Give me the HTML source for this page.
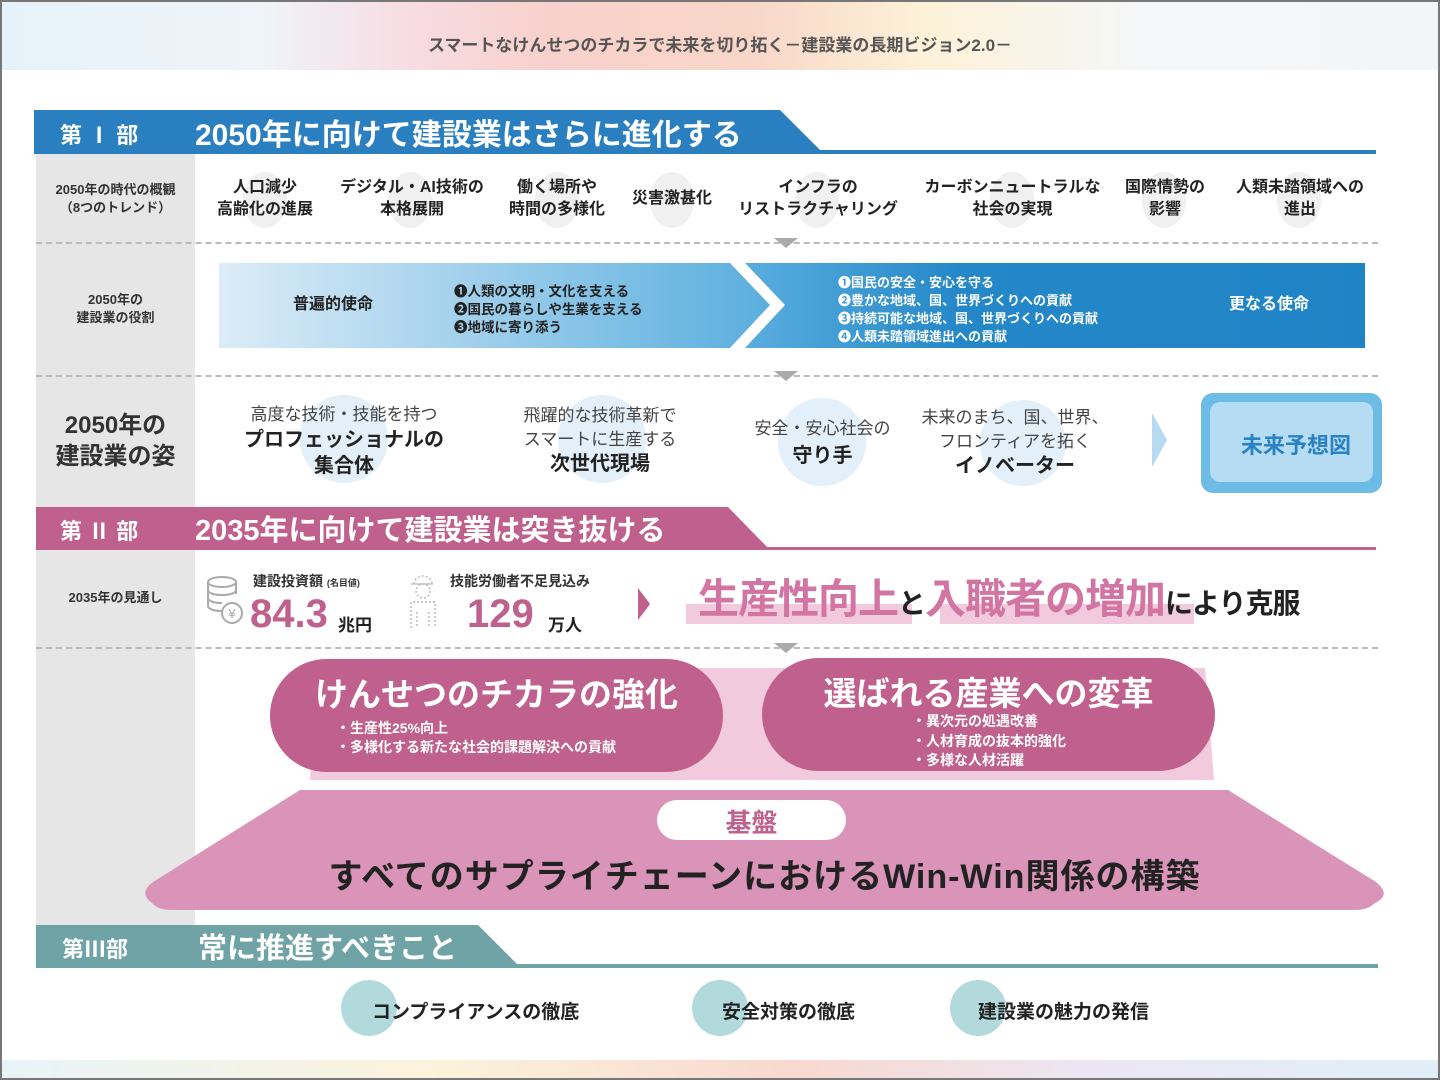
<!DOCTYPE html>
<html><head><meta charset="utf-8">
<style>
*{margin:0;padding:0;box-sizing:border-box}
body{width:1440px;height:1080px;position:relative;overflow:hidden;background:#fff;font-family:"Liberation Sans","Noto Sans CJK JP",sans-serif;color:#222}
.a{position:absolute}
.c{text-align:center;white-space:nowrap}
.t{font-weight:bold;font-size:16px;line-height:22px}
.dash{position:absolute;left:36px;width:1342px;border-top:2px dashed #bbb;height:0}
.tri{position:absolute;width:0;height:0;border-left:12px solid transparent;border-right:12px solid transparent;border-top:10px solid #aaa}
.circ{position:absolute;border-radius:50%}
</style></head><body>
<div class="a" style="left:0;top:0;width:1440px;height:1080px;border:2px solid #777;z-index:50;pointer-events:none"></div>
<div class="a" style="left:0;top:0;width:1440px;height:70px;background:linear-gradient(90deg,#e6f2f9 0%,#eef4f9 18%,#f7dde4 28%,#f8d1cc 38%,#f8d6c8 52%,#fdf1d8 64%,#f4f7f9 80%,#f3f6f8 100%)"></div>
<div class="a c" style="left:0;width:1440px;top:31px;font-size:17px;color:#555;font-weight:bold">スマートなけんせつのチカラで未来を切り拓く－建設業の長期ビジョン2.0－</div>
<div class="a" style="left:0;top:1060px;width:1440px;height:20px;background:linear-gradient(90deg,#e8f3f8 0%,#fbf3dc 30%,#f8d8cf 55%,#ece6f2 75%,#e0eff7 100%)"></div>

<div class="a" style="left:36px;top:152px;width:159px;height:773px;background:#e6e6e6"></div>

<svg class="a" style="left:0;top:0" width="1440" height="1080">
<polygon points="34,110 780,110 822,152 34,152" fill="#2a7fc0"/>
<rect x="34" y="150" width="1342" height="4" fill="#2a7fc0"/>
<polygon points="36,507 728,507 770,550 36,550" fill="#c0608c"/>
<rect x="36" y="547" width="1340" height="3" fill="#c0608c"/>
<polygon points="36,925 478,925 520,967 36,967" fill="#6fa3a6"/>
<rect x="36" y="964" width="1342" height="4" fill="#6fa3a6"/>
<defs><linearGradient id="g1" x1="0" x2="1"><stop offset="0" stop-color="#dcecf7"/><stop offset="1" stop-color="#5aaede"/></linearGradient>
<linearGradient id="g2" x1="0" x2="1"><stop offset="0" stop-color="#5aaede"/><stop offset="0.35" stop-color="#2487c8"/><stop offset="1" stop-color="#1f84c5"/></linearGradient></defs>
<polygon points="219,263 730,263 770,305 730,348 219,348" fill="url(#g1)"/>
<polygon points="745,263 1365,263 1365,348 745,348 785,305" fill="url(#g2)"/>
<polygon points="1152,413 1167,440 1152,467" fill="#b6daf0"/>
<polygon points="638,588 650,604 638,620" fill="#c0608c"/>
<polygon points="318,668 1205,668 1214,780 310,780" fill="#f2cade"/>
<path d="M300,790 L1228,790 L1376,882 Q1392,895 1375,903 Q1368,910 1355,910 L172,910 Q158,910 152,903 Q138,893 153,882 Z" fill="#d994b8"/>
</svg>
<div class="a" style="left:60px;top:118px;font-size:22px;color:#fff;font-weight:bold">第 Ⅰ 部</div>
<div class="a" style="left:195px;top:110px;font-size:30px;color:#fff;font-weight:bold">2050年に向けて建設業はさらに進化する</div>
<div class="a" style="left:60px;top:514px;font-size:22px;color:#fff;font-weight:bold">第 Ⅱ 部</div>
<div class="a" style="left:195px;top:507px;font-size:29px;color:#fff;font-weight:bold">2035年に向けて建設業は突き抜ける</div>
<div class="a" style="left:62px;top:932px;font-size:22px;color:#fff;font-weight:bold">第Ⅲ部</div>
<div class="a" style="left:198px;top:925px;font-size:29px;color:#fff;font-weight:bold">常に推進すべきこと</div>

<div class="a c" style="left:36px;width:159px;top:181px;font-size:13px;line-height:18px;font-weight:bold;color:#333">2050年の時代の概観<br>（8つのトレンド）</div>
<div class="circ" style="left:243px;top:172px;width:44px;height:56px;background:#f0f0f0"></div>
<div class="circ" style="left:388px;top:172px;width:44px;height:56px;background:#f0f0f0"></div>
<div class="circ" style="left:535px;top:172px;width:44px;height:56px;background:#f0f0f0"></div>
<div class="circ" style="left:650px;top:172px;width:44px;height:56px;background:#f0f0f0"></div>
<div class="circ" style="left:795px;top:172px;width:44px;height:56px;background:#f0f0f0"></div>
<div class="circ" style="left:990px;top:172px;width:44px;height:56px;background:#f0f0f0"></div>
<div class="circ" style="left:1142px;top:172px;width:44px;height:56px;background:#f0f0f0"></div>
<div class="circ" style="left:1277px;top:172px;width:44px;height:56px;background:#f0f0f0"></div>
<div class="a c t" style="left:205px;width:120px;top:177px">人口減少<br>高齢化の進展</div>
<div class="a c t" style="left:332px;width:160px;top:177px">デジタル・AI技術の<br>本格展開</div>
<div class="a c t" style="left:497px;width:120px;top:177px">働く場所や<br>時間の多様化</div>
<div class="a c t" style="left:622px;width:100px;top:188px">災害激甚化</div>
<div class="a c t" style="left:733px;width:170px;top:177px">インフラの<br>リストラクチャリング</div>
<div class="a c t" style="left:915px;width:195px;top:177px">カーボンニュートラルな<br>社会の実現</div>
<div class="a c t" style="left:1115px;width:100px;top:177px">国際情勢の<br>影響</div>
<div class="a c t" style="left:1225px;width:150px;top:177px">人類未踏領域への<br>進出</div>
<div class="dash" style="top:242px"></div>
<div class="tri" style="left:774px;top:238px"></div>

<div class="a c" style="left:36px;width:159px;top:291px;font-size:13px;line-height:18px;font-weight:bold;color:#333">2050年の<br>建設業の役割</div>
<div class="a" style="left:293px;top:290px;font-size:16px;font-weight:bold">普遍的使命</div>
<div class="a" style="left:454px;top:283px;font-size:13.5px;line-height:18px;font-weight:bold">❶人類の文明・文化を支える<br>❷国民の暮らしや生業を支える<br>❸地域に寄り添う</div>
<div class="a" style="left:838px;top:274px;font-size:13px;line-height:18px;font-weight:bold;color:#fff">➊国民の安全・安心を守る<br>➋豊かな地域、国、世界づくりへの貢献<br>➌持続可能な地域、国、世界づくりへの貢献<br>➍人類未踏領域進出への貢献</div>
<div class="a" style="left:1229px;top:290px;font-size:16px;font-weight:bold;color:#fff">更なる使命</div>
<div class="dash" style="top:375px"></div>
<div class="tri" style="left:774px;top:371px"></div>

<div class="a c" style="left:36px;width:159px;top:410px;font-size:24px;line-height:31px;font-weight:bold;color:#333">2050年の<br>建設業の姿</div>
<div class="circ" style="left:300px;top:395px;width:88px;height:88px;background:#e3eff9"></div>
<div class="circ" style="left:558px;top:395px;width:88px;height:88px;background:#e3eff9"></div>
<div class="circ" style="left:778px;top:398px;width:88px;height:88px;background:#e3eff9"></div>
<div class="circ" style="left:980px;top:400px;width:86px;height:86px;background:#e3eff9"></div>
<div class="a c" style="left:234px;width:220px;top:402px;line-height:25px"><span style="font-size:17px;color:#444">高度な技術・技能を持つ</span><br><span style="font-size:20px;font-weight:bold">プロフェッショナルの<br>集合体</span></div>
<div class="a c" style="left:490px;width:220px;top:404px;line-height:24px;font-size:17px;color:#444">飛躍的な技術革新で<br>スマートに生産する<br><span style="font-size:20px;font-weight:bold;color:#222">次世代現場</span></div>
<div class="a c" style="left:735px;width:175px;top:416px;line-height:26px"><span style="font-size:17px;color:#444">安全・安心社会の</span><br><span style="font-size:20px;font-weight:bold">守り手</span></div>
<div class="a c" style="left:910px;width:210px;top:406px;line-height:24px;font-size:17px;color:#444">未来のまち、国、世界、<br>フロンティアを拓く<br><span style="font-size:20px;font-weight:bold;color:#222">イノベーター</span></div>
<div class="a" style="left:1201px;top:393px;width:181px;height:100px;background:#6dbce6;border-radius:12px"></div>
<div class="a" style="left:1210px;top:402px;width:163px;height:80px;background:#b5dcf2;border-radius:10px"></div>
<div class="a c" style="left:1201px;width:190px;top:428px;font-size:22px;font-weight:bold;color:#2b82c3">未来予想図</div>

<div class="a c" style="left:36px;width:159px;top:587px;font-size:13px;font-weight:bold;color:#333">2035年の見通し</div>
<svg class="a" style="left:205px;top:573px" width="44" height="56"><g fill="none" stroke="#aaa" stroke-width="2"><ellipse cx="17" cy="9" rx="14" ry="5"/><path d="M3 9v24c0 3 6 5 14 5M31 9v12M3 17c0 3 6 5 14 5s14-2 14-5M3 25c0 3 6 5 14 5"/><circle cx="27" cy="40" r="10"/></g><text x="27" y="45" font-size="13" fill="#aaa" text-anchor="middle" font-family="Liberation Sans">¥</text></svg>
<div class="a" style="left:253px;top:571px;font-size:14px;font-weight:bold;color:#333">建設投資額 <span style="font-size:9px">(名目値)</span></div>
<div class="a" style="left:250px;top:590px;font-size:40px;color:#c0608c;font-weight:bold;line-height:48px">84.3</div>
<div class="a" style="left:338px;top:611px;font-size:17px;font-weight:bold">兆円</div>
<svg class="a" style="left:405px;top:572px" width="36" height="60"><g fill="none" stroke="#bbb" stroke-width="1.5" stroke-dasharray="2 2"><path d="M9 12a9 8 0 0 1 18 0zM6 12h24"/><circle cx="18" cy="19" r="7"/><path d="M6 56V30h24v26M12 40v16M24 40v16"/></g></svg>
<div class="a" style="left:450px;top:571px;font-size:14px;font-weight:bold;color:#333">技能労働者不足見込み</div>
<div class="a" style="left:467px;top:590px;font-size:40px;color:#c0608c;font-weight:bold;line-height:48px">129</div>
<div class="a" style="left:548px;top:611px;font-size:17px;font-weight:bold">万人</div>
<div class="a" style="left:686px;top:604px;width:226px;height:20px;background:#f2cade"></div>
<div class="a" style="left:940px;top:604px;width:254px;height:20px;background:#f2cade"></div>
<div class="a" style="left:698px;top:575px;font-size:41px;font-weight:bold;color:#d275a3;white-space:nowrap;line-height:48px;letter-spacing:-1px">生産性向上<span style="font-size:28px;color:#222">と</span><span>入職者の増加</span><span style="font-size:28px;color:#222">により克服</span></div>
<div class="dash" style="top:647px"></div>
<div class="tri" style="left:774px;top:643px"></div>

<div class="a" style="left:270px;top:659px;width:453px;height:113px;background:#c0608c;border-radius:57px"></div>
<div class="a c" style="left:270px;width:453px;top:668px;font-size:33px;color:#fff;font-weight:bold">けんせつのチカラの強化</div>
<div class="a" style="left:336px;top:719px;font-size:14px;line-height:19px;color:#fff;font-weight:bold">・生産性25%向上<br>・多様化する新たな社会的課題解決への貢献</div>
<div class="a" style="left:762px;top:658px;width:453px;height:113px;background:#c0608c;border-radius:57px"></div>
<div class="a c" style="left:762px;width:453px;top:667px;font-size:33px;color:#fff;font-weight:bold">選ばれる産業への変革</div>
<div class="a" style="left:912px;top:712px;font-size:14px;line-height:19.5px;color:#fff;font-weight:bold">・異次元の処遇改善<br>・人材育成の抜本的強化<br>・多様な人材活躍</div>

<div class="a" style="left:657px;top:800px;width:189px;height:40px;background:#fff;border-radius:20px"></div>
<div class="a c" style="left:657px;width:189px;top:803px;font-size:26px;font-weight:bold;color:#c0608c">基盤</div>
<div class="a c" style="left:147px;width:1235px;top:849px;font-size:34px;font-weight:bold;color:#222;letter-spacing:1px">すべてのサプライチェーンにおけるWin-Win関係の構築</div>

<div class="circ" style="left:341px;top:980px;width:56px;height:56px;background:#b2dadd"></div>
<div class="circ" style="left:692px;top:980px;width:56px;height:56px;background:#b2dadd"></div>
<div class="circ" style="left:950px;top:980px;width:56px;height:56px;background:#b2dadd"></div>
<div class="a" style="left:372px;top:997px;font-size:19px;font-weight:bold">コンプライアンスの徹底</div>
<div class="a" style="left:722px;top:997px;font-size:19px;font-weight:bold">安全対策の徹底</div>
<div class="a" style="left:978px;top:997px;font-size:19px;font-weight:bold">建設業の魅力の発信</div>
</body></html>
